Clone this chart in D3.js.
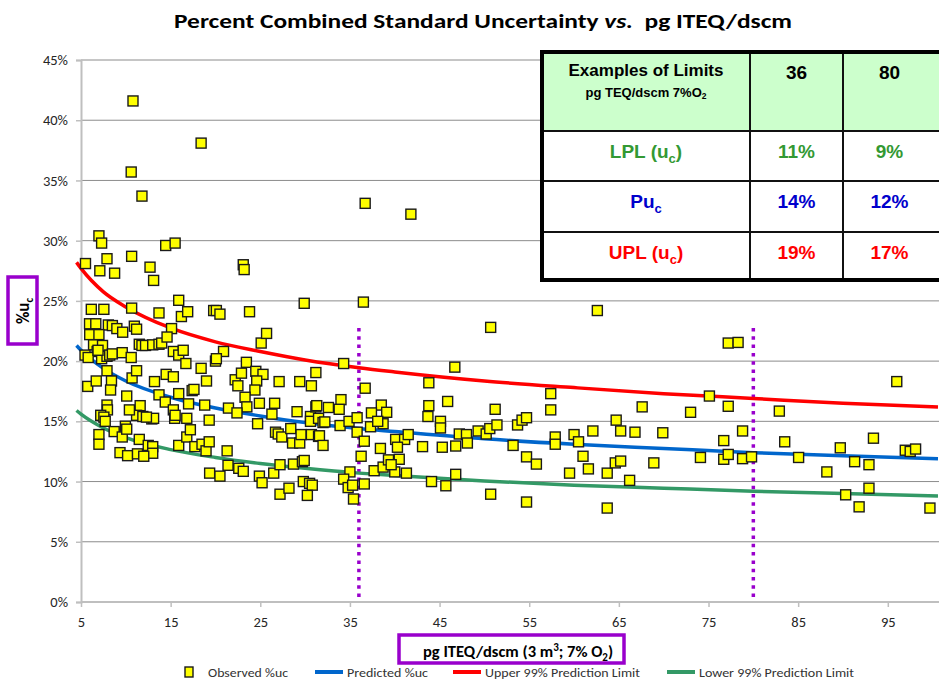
<!DOCTYPE html>
<html>
<head>
<meta charset="utf-8">
<script src="https://d3js.org/d3.v7.min.js"></script>
<style>
  body { margin: 0; background: #fff; }
  svg { display: block; }
  .calib { font-family: Carlito, "Liberation Sans Narrow", Roboto, "Open Sans", sans-serif; }
  .arial { font-family: "Liberation Sans", Arial, sans-serif; font-weight: bold; }
</style>
</head>
<body>
<div id="chart"></div>
<script>
// observed %uc vs pg ITEQ/dscm  [pg, pct]
const observed = [
  [10.8,41.6],[18.4,38.1],[10.6,35.7],[11.8,33.7],[36.7,33.1],[41.8,32.2],
  [7.0,30.4],[7.3,29.8],[14.45,29.6],[15.5,29.8],
  [5.5,28.1],[10.65,28.7],[7.9,28.5],[7.1,27.5],[8.75,27.3],[12.7,27.8],[13.1,26.7],[23.1,28.0],[23.2,27.6],
  [29.9,24.8],[36.5,24.9],[6.15,24.3],[7.55,24.3],[10.65,24.4],[13.7,24.0],[15.9,25.05],[16.2,23.7],[16.9,24.1],
  [19.8,24.2],[20.1,24.2],[20.5,23.9],[23.8,24.1],[62.6,24.2],[50.7,22.8],[25.1,21.5],[25.7,22.3],
  [5.95,23.1],[6.65,23.1],[8.05,23.0],[8.5,22.95],[9.0,22.7],[9.65,22.4],[10.95,22.9],[11.2,22.65],[15.1,22.7],
  [5.97,22.2],[7.0,22.2],
  [6.4,21.35],[7.4,21.3],[6.8,20.8],[5.45,20.5],[5.8,20.3],[7.3,20.2],[7.9,20.4],[8.2,20.5],[8.5,20.6],[9.6,20.7],
  [10.6,20.3],[6.9,20.9],
  [11.5,21.4],[11.8,21.3],[12.2,21.3],[13.0,21.35],[13.7,21.4],[14.0,21.5],[14.6,22.0],
  [15.3,20.8],[15.9,20.5],[16.4,20.9],[16.7,19.8],[20.9,20.8],[20.0,20.0],[20.1,20.2],[18.4,19.4],
  [5.75,17.9],[6.7,18.35],[7.9,19.2],[8.4,18.35],[8.3,17.6],[10.7,18.6],[11.2,19.2],[10.1,17.1],[13.2,18.3],
  [14.5,18.9],[15.3,18.7],[13.7,17.2],[14.4,16.6],[15.9,17.3],[17.4,17.55],[17.6,17.65],[19.0,18.35],[17.0,16.45],
  [18.8,16.35],
  [22.2,18.45],[22.5,17.95],[22.9,19.0],[23.45,19.9],[24.5,19.15],[25.3,18.9],[24.6,18.35],[24.4,17.6],[23.3,17.0],
  [23.5,16.2],[24.9,16.5],[24.7,14.8],
  [27.1,18.3],[29.4,18.3],[30.7,17.95],[31.2,19.05],[26.6,16.5],[26.3,15.6],[29.1,15.8],[30.6,15.4],[31.2,16.2],
  [21.45,16.1],[22.4,15.7],[19.3,15.1],[16.8,15.25],[15.3,15.95],[15.45,15.25],[15.5,15.5],
  [12.9,15.2],[13.1,15.25],[11.6,16.3],[11.2,15.5],[11.9,15.4],[12.3,15.35],[10.4,15.95],
  [7.9,16.35],[7.95,15.95],[7.2,15.5],[7.55,15.35],[7.7,15.0],
  [7.0,13.9],[7.0,13.1],[8.7,14.15],[9.6,13.7],[9.95,14.6],[10.1,14.35],[11.5,13.5],[12.5,13.0],[13.0,12.9],
  [13.0,12.35],[9.35,12.4],[10.2,12.15],[11.3,12.3],[12.0,12.1],
  [15.9,13.0],[16.8,13.7],[17.2,14.3],[17.7,12.9],[18.5,13.1],[18.95,12.55],[19.3,13.3],[21.3,12.55],[19.35,10.7],
  [20.5,10.45],[21.4,11.35],[22.6,11.1],[23.1,10.85],[24.9,10.45],[25.2,9.9],[26.5,10.7],[27.2,11.4],
  [26.7,14.1],[27.0,13.95],[27.4,13.7],[28.4,14.4],[28.6,13.2],[29.4,13.2],[29.55,13.9],[28.7,11.45],[29.7,11.65],
  [29.9,11.75],[27.2,8.95],[28.2,9.45],[29.8,10.0],[30.5,9.85],[30.8,9.7],[30.25,8.85],[30.7,13.9],[31.5,13.75],
  [31.3,16.3],[32.6,16.15],[34.0,16.8],[33.8,16.0],[30.6,15.0],[31.5,15.25],[32.0,14.9],[32.2,14.95],[33.9,14.65],
  [34.9,15.0],[35.8,15.3],[35.8,14.1],[31.6,13.8],[32.0,13.0],[34.3,19.8],
  [35.0,10.8],[34.3,10.2],[34.8,9.5],[35.3,9.7],[35.4,8.55],[36.6,9.8],
  [36.7,17.75],[43.8,18.2],[46.7,19.5],[57.4,17.3],[57.4,15.95],
  [38.5,16.35],[39.1,15.75],[37.4,15.7],[43.8,16.3],[43.7,15.4],[45.9,16.65],[51.2,16.0],[45.1,15.0],[45.1,14.45],
  [37.3,14.55],[38.7,14.8],[38.1,15.0],
  [36.6,13.35],[40.1,13.5],[41.1,13.5],[41.5,13.9],[38.4,12.75],[40.3,12.85],[43.1,12.9],[45.3,12.85],[46.8,12.95],
  [47.2,13.95],[48.0,13.9],[48.1,13.2],[49.3,14.2],[50.2,13.95],[50.6,14.4],[51.4,14.7],
  [53.2,13.0],[53.7,14.7],[54.2,15.1],[54.7,15.3],[54.7,12.05],[55.8,11.45],
  [57.9,13.7],[57.9,13.1],[60.0,13.9],[60.5,13.3],[61.0,12.1],[61.6,11.05],[62.1,14.2],[59.5,10.7],[63.7,10.7],
  [64.6,11.55],[65.2,11.7],[64.7,15.1],[65.2,14.2],[66.8,14.1],[67.6,16.2],[66.2,10.1],
  [50.7,8.95],[54.7,8.3],[63.7,7.8],[44.1,10.0],[45.7,9.65],[46.8,10.6],
  [36.25,12.1],[37.7,10.9],[38.7,11.2],[39.3,11.8],[40.0,10.8],[40.5,11.85],[41.3,10.7],[39.6,11.4],
  [77.2,21.5],[78.3,21.55],[96.0,18.3],[75.1,17.1],[73.0,15.75],[77.2,16.25],[82.9,15.85],[69.9,14.05],[76.7,13.4],
  [78.8,14.2],[83.5,13.3],[68.9,11.55],[74.1,12.0],[76.7,11.85],[77.2,12.25],[78.8,11.9],[79.8,12.05],[85.05,12.0],
  [88.2,10.8],[89.7,12.8],[91.3,11.65],[92.9,11.4],[93.4,13.6],[90.3,8.9],[91.8,7.9],[92.9,9.45],
  [96.95,12.6],[97.5,12.5],[98.1,12.7],[99.7,7.8]
];

// fitted curves
const curveX    = [4.5, 5, 7.5, 10, 15, 20, 25, 30, 36, 40, 50, 60, 70, 80, 90, 100.6];
const predicted = [21.3, 20.9, 19.4, 18.35, 17.0, 16.1, 15.45, 14.9, 14.4, 14.15, 13.55, 13.1, 12.75, 12.4, 12.15, 11.9];
const upper     = [28.2, 27.7, 25.75, 24.5, 22.75, 21.6, 20.8, 20.1, 19.45, 19.1, 18.35, 17.8, 17.3, 16.9, 16.5, 16.2];
const lower     = [15.9, 15.6, 14.45, 13.65, 12.65, 12.0, 11.5, 11.1, 10.7, 10.5, 10.05, 9.7, 9.45, 9.2, 9.0, 8.8];

const limitX = [36, 80];
const xTicks = [5, 15, 25, 35, 45, 55, 65, 75, 85, 95];
const yTicks = [0, 5, 10, 15, 20, 25, 30, 35, 40, 45];

// table of example limits
const tableCols = ["36", "80"];
const tableRows = [
  { name: "LPL (u", sub: "c", tail: ")", color: "#339933", vals: ["11%", "9%"] },
  { name: "Pu", sub: "c", tail: "", color: "#0000cc", vals: ["14%", "12%"] },
  { name: "UPL (u", sub: "c", tail: ")", color: "#ff0000", vals: ["19%", "17%"] }
];

const legendItems = [
  { label: "Observed %uc", type: "marker" },
  { label: "Predicted %uc", type: "line", color: "#0066cc" },
  { label: "Upper 99% Prediction Limit", type: "line", color: "#ff0000" },
  { label: "Lower 99% Prediction Limit", type: "line", color: "#339966" }
];

const W = 939, H = 682;
const svg = d3.select("#chart").append("svg").attr("width", W).attr("height", H);

const x = d3.scaleLinear().domain([5, 100.6]).range([81, 938]);
const y = d3.scaleLinear().domain([0, 45]).range([602, 60]);

// gridlines
svg.append("g").selectAll("line").data(yTicks.filter(d => d > 0)).join("line")
    .attr("x1", 81).attr("x2", W).attr("y1", d => y(d)).attr("y2", d => y(d))
    .attr("stroke", "#8c8c8c").attr("stroke-width", 1);

// axes
const yAxis = svg.append("g").attr("transform", "translate(81,0)")
    .call(d3.axisLeft(y).tickValues(yTicks).tickFormat(d => d + "%").tickSize(5).tickPadding(8));
const xAxis = svg.append("g").attr("transform", "translate(0,602)")
    .call(d3.axisBottom(x).tickValues(xTicks).tickSize(5).tickPadding(10));
[yAxis, xAxis].forEach(a => {
    a.select(".domain").attr("stroke", "#bfbfbf").attr("stroke-width", 2);
    a.selectAll(".tick line").attr("stroke", "#bfbfbf").attr("stroke-width", 1.5);
    a.selectAll("text").attr("class", "calib").attr("font-size", 14.5).attr("fill", "#262626");
});
xAxis.select(".domain").attr("d", "M81,0H" + W);

// limit markers (dotted)
svg.append("g").selectAll("line").data(limitX).join("line")
    .attr("x1", d => x(d)).attr("x2", d => x(d)).attr("y1", 328).attr("y2", 602)
    .attr("stroke", "#9900cc").attr("stroke-width", 3.5).attr("stroke-dasharray", "3.5,4.8");

// curves
const line = d3.line().x((d, i) => x(curveX[i])).y(d => y(d)).curve(d3.curveMonotoneX);
[[upper, "#ff0000"], [predicted, "#0066cc"], [lower, "#339966"]].forEach(([s, c]) => {
    svg.append("path").datum(s).attr("d", line).attr("fill", "none")
        .attr("stroke", c).attr("stroke-width", 3.5);
});

// observed points
svg.append("g").selectAll("rect").data(observed).join("rect")
    .attr("x", d => x(d[0]) - 5).attr("y", d => y(d[1]) - 5)
    .attr("width", 10).attr("height", 10)
    .attr("fill", "#ffff00").attr("stroke", "#1a1a1a").attr("stroke-width", 1.4);

// table
const tb = svg.append("g");
const colX = [542, 750, 843, 942];
const rowY = [52, 131, 181, 232, 280];
tb.append("rect").attr("x", colX[0]).attr("y", rowY[0]).attr("width", colX[3] - colX[0]).attr("height", rowY[1] - rowY[0])
    .attr("fill", "#ccffcc");
tb.append("rect").attr("x", colX[0]).attr("y", rowY[1]).attr("width", colX[3] - colX[0]).attr("height", rowY[4] - rowY[1])
    .attr("fill", "#fff");
rowY.slice(1, 4).forEach(v => tb.append("line").attr("x1", colX[0]).attr("x2", colX[3]).attr("y1", v).attr("y2", v)
    .attr("stroke", "#111").attr("stroke-width", 2));
colX.slice(1, 3).forEach(v => tb.append("line").attr("x1", v).attr("x2", v).attr("y1", rowY[0]).attr("y2", rowY[4])
    .attr("stroke", "#111").attr("stroke-width", 2));
tb.append("rect").attr("x", colX[0]).attr("y", rowY[0]).attr("width", colX[3] - colX[0]).attr("height", rowY[4] - rowY[0])
    .attr("fill", "none").attr("stroke", "#000").attr("stroke-width", 4);

const c0 = (colX[0] + colX[1]) / 2;
const colC = [(colX[1] + colX[2]) / 2, (colX[2] + colX[3]) / 2 - 3];
tb.append("text").attr("class", "arial").attr("x", c0).attr("y", 76).attr("text-anchor", "middle")
    .attr("font-size", 17).text("Examples of Limits");
const sub1 = tb.append("text").attr("class", "arial").attr("x", c0).attr("y", 97).attr("text-anchor", "middle")
    .attr("font-size", 13);
sub1.append("tspan").text("pg TEQ/dscm 7%O");
sub1.append("tspan").attr("font-size", 8.5).attr("dy", 2).text("2");
tableCols.forEach((t, i) => tb.append("text").attr("class", "arial").attr("x", colC[i]).attr("y", 79)
    .attr("text-anchor", "middle").attr("font-size", 19).text(t));
tableRows.forEach((r, j) => {
    const base = [158, 208, 259][j];
    const t = tb.append("text").attr("class", "arial").attr("x", c0).attr("y", base).attr("text-anchor", "middle")
        .attr("font-size", 19).attr("fill", r.color);
    t.append("tspan").text(r.name);
    t.append("tspan").attr("font-size", 13).attr("dy", 5).text(r.sub);
    if (r.tail) t.append("tspan").attr("dy", -5).text(r.tail);
    r.vals.forEach((v, i) => tb.append("text").attr("class", "arial").attr("x", colC[i]).attr("y", base)
        .attr("text-anchor", "middle").attr("font-size", 19).attr("fill", r.color).text(v));
});

// title
const title = svg.append("text").attr("class", "calib").attr("x", 483).attr("y", 28).attr("text-anchor", "middle")
    .attr("font-size", 20.5).attr("font-weight", "bold").attr("fill", "#000")
    .attr("textLength", 618).attr("lengthAdjust", "spacingAndGlyphs");
title.append("tspan").text("Percent Combined Standard Uncertainty ");
title.append("tspan").attr("font-style", "italic").text("vs.");
title.append("tspan").text("\u00a0 pg ITEQ/dscm");

// y label
svg.append("rect").attr("x", 8).attr("y", 277).attr("width", 29).attr("height", 67)
    .attr("fill", "#fff").attr("stroke", "#9900cc").attr("stroke-width", 3.5);
const yl = svg.append("text").attr("class", "calib").attr("transform", "translate(29,311) rotate(-90)")
    .attr("text-anchor", "middle").attr("font-size", 17).attr("font-weight", "bold").attr("fill", "#000");
yl.append("tspan").text("%u");
yl.append("tspan").attr("font-size", 11).attr("dy", 4).text("c");

// x label
svg.append("rect").attr("x", 399).attr("y", 635).attr("width", 225).attr("height", 28)
    .attr("fill", "#fff").attr("stroke", "#9900cc").attr("stroke-width", 3.5);
const xl = svg.append("text").attr("class", "calib").attr("x", 518).attr("y", 657).attr("text-anchor", "middle")
    .attr("font-size", 16.5).attr("font-weight", "bold").attr("fill", "#000");
xl.append("tspan").text("pg ITEQ/dscm (3 m");
xl.append("tspan").attr("font-size", 11).attr("dy", -6).text("3");
xl.append("tspan").attr("dy", 6).text("; 7% O");
xl.append("tspan").attr("font-size", 11).attr("dy", 4).text("2");
xl.append("tspan").attr("dy", -4).text(")");

// legend
const legX = [184, 315, 453, 667];
const legTextW = [80, 81, 155, 155];
legendItems.forEach((d, i) => {
    const g = svg.append("g").attr("transform", `translate(${legX[i]},672)`);
    if (d.type === "marker") {
        g.append("rect").attr("x", 1).attr("y", -5).attr("width", 8).attr("height", 10)
            .attr("fill", "#ffff00").attr("stroke", "#1a1a1a").attr("stroke-width", 1.4);
        g.append("text").attr("class", "calib").attr("x", 24).attr("y", 4.5).attr("font-size", 12.5)
            .attr("fill", "#333").attr("textLength", legTextW[i]).attr("lengthAdjust", "spacingAndGlyphs").text(d.label);
    } else {
        g.append("line").attr("x1", 0).attr("x2", 28).attr("y1", 0).attr("y2", 0)
            .attr("stroke", d.color).attr("stroke-width", 4);
        g.append("text").attr("class", "calib").attr("x", 32).attr("y", 4.5).attr("font-size", 12.5)
            .attr("fill", "#333").attr("textLength", legTextW[i]).attr("lengthAdjust", "spacingAndGlyphs").text(d.label);
    }
});
</script>
</body>
</html>
